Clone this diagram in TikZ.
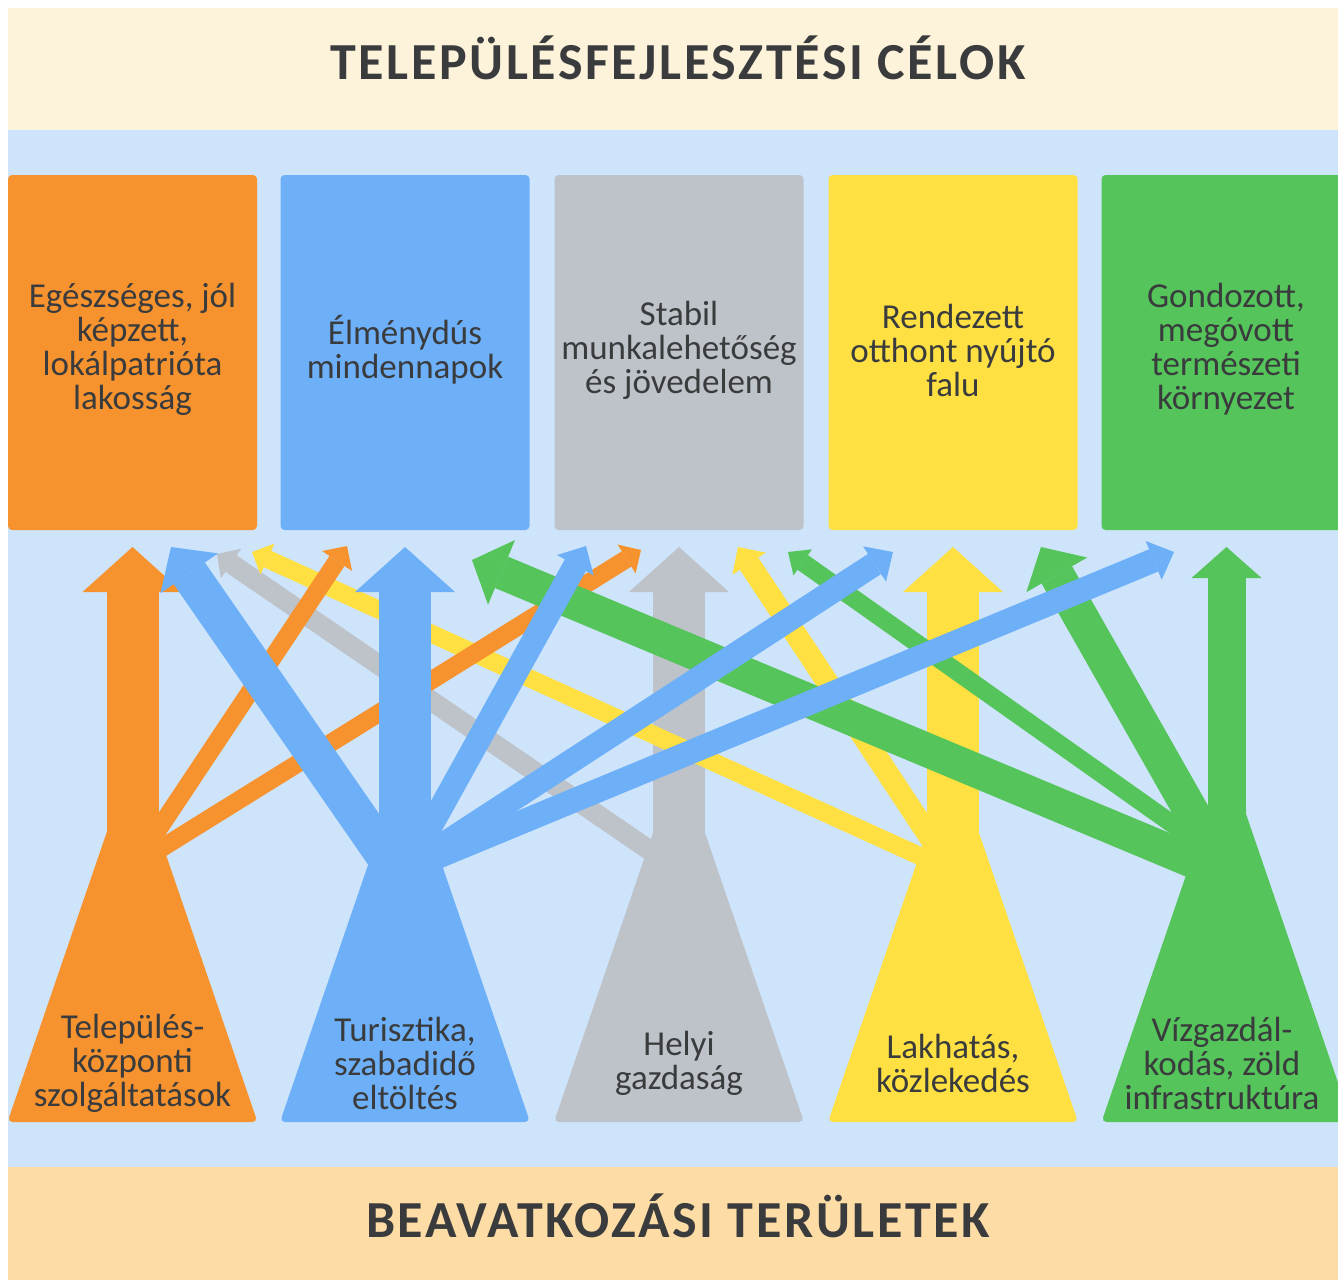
\documentclass[tikz,border=0pt]{standalone}
\usepackage{fontspec}
\setmainfont{Carlito}
\newfontfamily\titlefont{Carlito}[LetterSpace=5]
\usetikzlibrary{calc}
\definecolor{cOr}{HTML}{F7932F}
\definecolor{cBl}{HTML}{6DB0F8}
\definecolor{cGr}{HTML}{BEC3CA}
\definecolor{cYe}{HTML}{FEE042}
\definecolor{cGn}{HTML}{54C45B}
\definecolor{cBg}{HTML}{CEE4FB}
\definecolor{cHead}{HTML}{FDF3DB}
\definecolor{cFoot}{HTML}{FDDCA5}
\definecolor{cTxt}{HTML}{3A3B3D}
\newcommand{\lblfont}{\fontsize{35}{34}\selectfont}
\newcommand{\branch}[6]{%
  \path ($(#3)!#6pt!(#2)$) coordinate (hb);
  \draw[#1, line width=#4pt] ($(#2)!-30pt!(#3)$) -- (hb);
  \fill[#1] (#3) -- ($(hb)!#5pt!90:(#3)$) -- ($(hb)!#5pt!-90:(#3)$) -- cycle;
}
\newcommand{\srcshape}[2]{%
  \fill[#1, rounded corners=5pt] (#2-125,1122) -- (#2+125,1122) -- (#2,757) -- cycle;
}
\tikzset{
  goalbox/.style={rounded corners=4pt, minimum width=249pt, minimum height=355pt,
    inner sep=0pt, text=cTxt, align=center, font=\lblfont},
  lbl/.style={text=cTxt, align=center, font=\lblfont, inner sep=0pt},
  bigtitle/.style={text=cTxt, font=\titlefont\bfseries\fontsize{52}{60}\selectfont, inner sep=0pt, anchor=base}
}
\begin{document}
\begin{tikzpicture}[x=1pt,y=-1pt]
\useasboundingbox (0,0) rectangle (1338,1280);
\fill[white] (0,0) rectangle (1338,1280);
\fill[cBg] (8,130) rectangle (1338,1167);
\fill[cHead] (8,8) rectangle (1338,130);
\fill[cFoot] (8,1167) rectangle (1338,1280);
\node[bigtitle] (title) at (678,79) {TELEPÜLÉSFEJLESZTÉSI CÉLOK};
\node[bigtitle] (foot) at (678,1237) {BEAVATKOZÁSI TERÜLETEK};

% goal boxes
\node[goalbox, fill=cOr] (g1) at (132.5,352.5) {};
\node[goalbox, fill=cBl] (g2) at (405,352.5) {};
\node[goalbox, fill=cGr] (g3) at (679,352.5) {};
\node[goalbox, fill=cYe] (g4) at (953,352.5) {};
\node[goalbox, fill=cGn] (g5) at (1226,352.5) {};
\node[lbl] (t1) at (132.5,349) {Egészséges, jól\\képzett,\\lokálpatrióta\\lakosság};
\node[lbl] (t2) at (405,350) {Élménydús\\mindennapok};
\node[lbl] (t3) at (679,350) {Stabil\\munkalehetőség\\és jövedelem};
\node[lbl] (t4) at (953,350) {Rendezett\\otthont nyújtó\\falu};
\node[lbl] (t5) at (1226,349) {Gondozott,\\megóvott\\természeti\\környezet};

% coordinates
\coordinate (oS) at (132.5,880); \coordinate (oT) at (132.5,547);
\coordinate (bS) at (405,880);   \coordinate (bT) at (405,547);
\coordinate (gS) at (679,880);   \coordinate (gT) at (679,547);
\coordinate (yS) at (953,880);   \coordinate (yT) at (953,547);
\coordinate (nS) at (1226.5,880); \coordinate (nT) at (1226.5,547);

\coordinate (obS) at (146,848); \coordinate (obT) at (347,546);
\coordinate (ogS) at (165,846); \coordinate (ogT) at (641,550);
\coordinate (boS) at (388,860); \coordinate (boT) at (171,547);
\coordinate (bgS) at (423,840); \coordinate (bgT) at (586,546);
\coordinate (byS) at (430,853); \coordinate (byT) at (893,552);
\coordinate (bnS) at (430,860); \coordinate (bnT) at (1174,552);
\coordinate (goS) at (655,854); \coordinate (goT) at (217,554);
\coordinate (yoS) at (922,857); \coordinate (yoT) at (252,552);
\coordinate (ygS) at (935,845); \coordinate (ygT) at (738,547);
\coordinate (nbS) at (1195,862); \coordinate (nbT) at (472,560);
\coordinate (ngS) at (1195,840); \coordinate (ngT) at (788,552);
\coordinate (nyS) at (1212,848); \coordinate (nyT) at (1041,547);

% gray group
\srcshape{cGr}{679}
\branch{cGr}{gS}{gT}{52}{50}{45}
\branch{cGr}{goS}{goT}{20}{18}{17}
% yellow group
\srcshape{cYe}{953}
\branch{cYe}{yS}{yT}{52}{50}{45}
\branch{cYe}{yoS}{yoT}{18}{17}{17}
\branch{cYe}{ygS}{ygT}{22}{20}{20}
% orange group
\srcshape{cOr}{132.5}
\branch{cOr}{oS}{oT}{52}{50}{45}
\branch{cOr}{obS}{obT}{18}{18}{18}
\branch{cOr}{ogS}{ogT}{18}{17}{17}
% green group
\srcshape{cGn}{1226.5}
\branch{cGn}{nS}{nT}{38}{35}{31}
\branch{cGn}{nbS}{nbT}{34}{35}{32}
\branch{cGn}{ngS}{ngT}{18}{16}{18}
\branch{cGn}{nyS}{nyT}{35}{35}{32}
% blue group
\srcshape{cBl}{405}
\branch{cBl}{bS}{bT}{52}{50}{45}
\branch{cBl}{boS}{boT}{38}{35}{32}
\branch{cBl}{bgS}{bgT}{24}{21}{22}
\branch{cBl}{byS}{byT}{24}{21}{22}
\branch{cBl}{bnS}{bnT}{24}{21}{22}

% source labels
\node[lbl] (s1) at (132.5,1063) {Település-\\központi\\szolgáltatások};
\node[lbl] (s2) at (405,1063) {Turisztika,\\szabadidő\\eltöltés};
\node[lbl] (s3) at (679,1063) {Helyi\\gazdaság};
\node[lbl] (s4) at (953,1063) {Lakhatás,\\közlekedés};
\node[lbl] (s5) at (1222,1063) {Vízgazdál-\\kodás, zöld\\infrastruktúra};
\end{tikzpicture}
\end{document}
